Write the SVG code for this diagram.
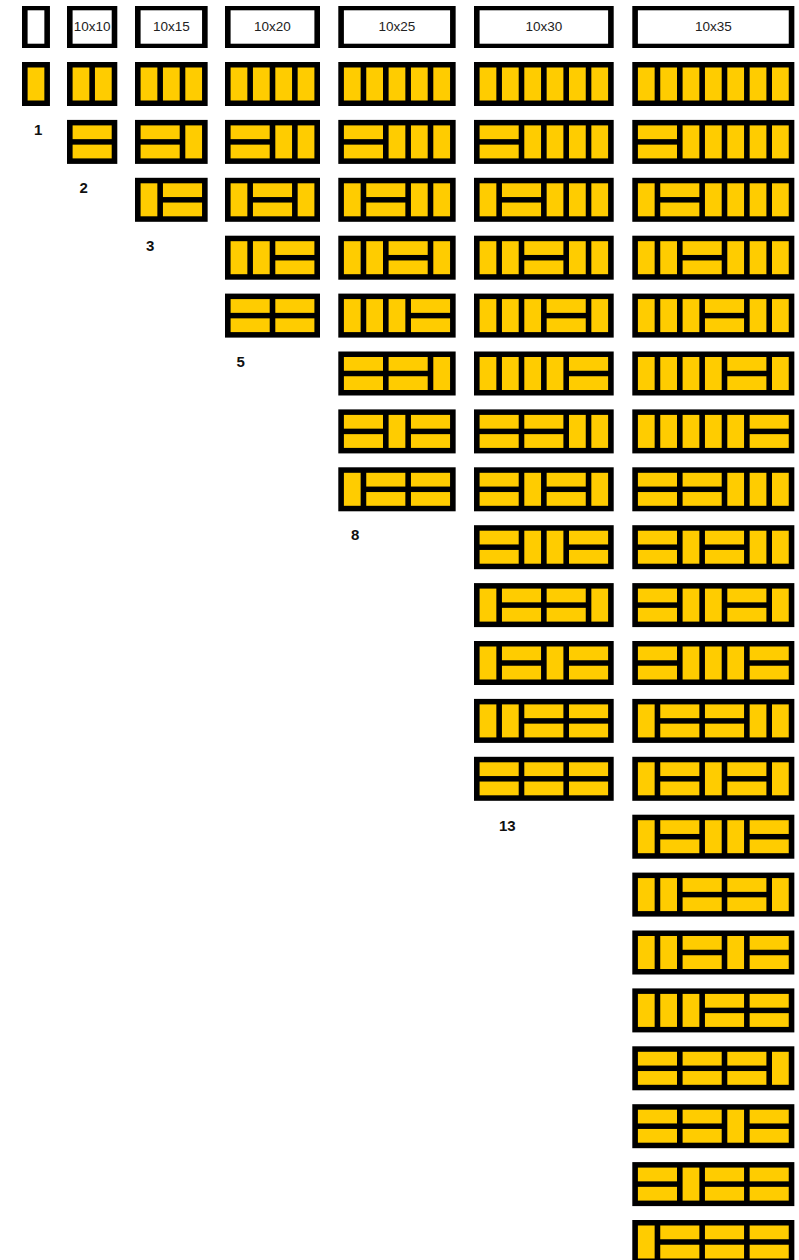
<svg xmlns="http://www.w3.org/2000/svg" width="799" height="1260" viewBox="0 0 799 1260">
<style>
.f{fill:#000}
.w{fill:#fff}
.t{fill:#FFCC00}
.cap{font-family:"Liberation Sans",Arial,sans-serif;font-size:13.5px;fill:#222;text-anchor:middle}
.lbl{font-family:"Liberation Sans",Arial,sans-serif;font-size:15px;font-weight:bold;fill:#111}
</style>
<defs>
<rect id="v" class="t" x="5.6" y="5.5" width="16.75" height="33"/>
<g id="h" class="t"><rect x="5.6" y="5.5" width="39.1" height="13.75"/><rect x="5.6" y="24.75" width="39.1" height="13.75"/></g>
</defs>
<rect width="799" height="1260" fill="#fff"/>

<!-- headers -->
<g id="hdr1" transform="translate(22,6)"><rect class="f" width="27.95" height="42"/><rect class="w" x="5.6" y="4.3" width="16.75" height="33.4"/></g>
<g id="hdr2" transform="translate(67,6)"><rect class="f" width="50.3" height="42"/><rect class="w" x="5.6" y="4.3" width="39.1" height="33.4"/><text class="cap" x="25.15" y="24.7">10x10</text></g>
<g id="hdr3" transform="translate(135,6)"><rect class="f" width="72.65" height="42"/><rect class="w" x="5.6" y="4.3" width="61.45" height="33.4"/><text class="cap" x="36.3" y="24.7">10x15</text></g>
<g id="hdr4" transform="translate(225,6)"><rect class="f" width="95" height="42"/><rect class="w" x="5.6" y="4.3" width="83.8" height="33.4"/><text class="cap" x="47.5" y="24.7">10x20</text></g>
<g id="hdr5" transform="translate(338.3,6)"><rect class="f" width="117.35" height="42"/><rect class="w" x="5.6" y="4.3" width="106.15" height="33.4"/><text class="cap" x="58.7" y="24.7">10x25</text></g>
<g id="hdr6" transform="translate(474,6)"><rect class="f" width="139.7" height="42"/><rect class="w" x="5.6" y="4.3" width="128.5" height="33.4"/><text class="cap" x="69.85" y="24.7">10x30</text></g>
<g id="hdr7" transform="translate(632.3,6)"><rect class="f" width="162.05" height="42"/><rect class="w" x="5.6" y="4.3" width="150.85" height="33.4"/><text class="cap" x="81" y="24.7">10x35</text></g>

<!-- column 1 -->
<g id="t1-1" transform="translate(22,62)"><rect class="f" width="27.95" height="44"/><use href="#v" x="0"/></g>
<text id="n1" class="lbl" x="34" y="135">1</text>

<!-- column 2 -->
<g id="t2-1" transform="translate(67,62)"><rect class="f" width="50.3" height="44"/><use href="#v" x="0"/><use href="#v" x="22.35"/></g>
<g id="t2-2" transform="translate(67,119.9)"><rect class="f" width="50.3" height="44"/><use href="#h" x="0"/></g>
<text id="n2" class="lbl" x="79.5" y="193">2</text>

<!-- column 3 -->
<g id="t3-1" transform="translate(135,62)"><rect class="f" width="72.65" height="44"/><use href="#v" x="0"/><use href="#v" x="22.35"/><use href="#v" x="44.7"/></g>
<g id="t3-2" transform="translate(135,119.9)"><rect class="f" width="72.65" height="44"/><use href="#h" x="0"/><use href="#v" x="44.7"/></g>
<g id="t3-3" transform="translate(135,177.8)"><rect class="f" width="72.65" height="44"/><use href="#v" x="0"/><use href="#h" x="22.35"/></g>
<text id="n3" class="lbl" x="146" y="251">3</text>

<!-- column 4 -->
<g id="t4-1" transform="translate(225,62)"><rect class="f" width="95" height="44"/><use href="#v" x="0"/><use href="#v" x="22.35"/><use href="#v" x="44.7"/><use href="#v" x="67.05"/></g>
<g id="t4-2" transform="translate(225,119.9)"><rect class="f" width="95" height="44"/><use href="#h" x="0"/><use href="#v" x="44.7"/><use href="#v" x="67.05"/></g>
<g id="t4-3" transform="translate(225,177.8)"><rect class="f" width="95" height="44"/><use href="#v" x="0"/><use href="#h" x="22.35"/><use href="#v" x="67.05"/></g>
<g id="t4-4" transform="translate(225,235.7)"><rect class="f" width="95" height="44"/><use href="#v" x="0"/><use href="#v" x="22.35"/><use href="#h" x="44.7"/></g>
<g id="t4-5" transform="translate(225,293.6)"><rect class="f" width="95" height="44"/><use href="#h" x="0"/><use href="#h" x="44.7"/></g>
<text id="n5" class="lbl" x="236.5" y="366.5">5</text>

<!-- column 5 -->
<g id="t5-1" transform="translate(338.3,62)"><rect class="f" width="117.35" height="44"/><use href="#v" x="0"/><use href="#v" x="22.35"/><use href="#v" x="44.7"/><use href="#v" x="67.05"/><use href="#v" x="89.4"/></g>
<g id="t5-2" transform="translate(338.3,119.9)"><rect class="f" width="117.35" height="44"/><use href="#h" x="0"/><use href="#v" x="44.7"/><use href="#v" x="67.05"/><use href="#v" x="89.4"/></g>
<g id="t5-3" transform="translate(338.3,177.8)"><rect class="f" width="117.35" height="44"/><use href="#v" x="0"/><use href="#h" x="22.35"/><use href="#v" x="67.05"/><use href="#v" x="89.4"/></g>
<g id="t5-4" transform="translate(338.3,235.7)"><rect class="f" width="117.35" height="44"/><use href="#v" x="0"/><use href="#v" x="22.35"/><use href="#h" x="44.7"/><use href="#v" x="89.4"/></g>
<g id="t5-5" transform="translate(338.3,293.6)"><rect class="f" width="117.35" height="44"/><use href="#v" x="0"/><use href="#v" x="22.35"/><use href="#v" x="44.7"/><use href="#h" x="67.05"/></g>
<g id="t5-6" transform="translate(338.3,351.5)"><rect class="f" width="117.35" height="44"/><use href="#h" x="0"/><use href="#h" x="44.7"/><use href="#v" x="89.4"/></g>
<g id="t5-7" transform="translate(338.3,409.4)"><rect class="f" width="117.35" height="44"/><use href="#h" x="0"/><use href="#v" x="44.7"/><use href="#h" x="67.05"/></g>
<g id="t5-8" transform="translate(338.3,467.3)"><rect class="f" width="117.35" height="44"/><use href="#v" x="0"/><use href="#h" x="22.35"/><use href="#h" x="67.05"/></g>
<text id="n8" class="lbl" x="351" y="540">8</text>

<!-- column 6 -->
<g id="t6-1" transform="translate(474,62)"><rect class="f" width="139.7" height="44"/><use href="#v" x="0"/><use href="#v" x="22.35"/><use href="#v" x="44.7"/><use href="#v" x="67.05"/><use href="#v" x="89.4"/><use href="#v" x="111.75"/></g>
<g id="t6-2" transform="translate(474,119.9)"><rect class="f" width="139.7" height="44"/><use href="#h" x="0"/><use href="#v" x="44.7"/><use href="#v" x="67.05"/><use href="#v" x="89.4"/><use href="#v" x="111.75"/></g>
<g id="t6-3" transform="translate(474,177.8)"><rect class="f" width="139.7" height="44"/><use href="#v" x="0"/><use href="#h" x="22.35"/><use href="#v" x="67.05"/><use href="#v" x="89.4"/><use href="#v" x="111.75"/></g>
<g id="t6-4" transform="translate(474,235.7)"><rect class="f" width="139.7" height="44"/><use href="#v" x="0"/><use href="#v" x="22.35"/><use href="#h" x="44.7"/><use href="#v" x="89.4"/><use href="#v" x="111.75"/></g>
<g id="t6-5" transform="translate(474,293.6)"><rect class="f" width="139.7" height="44"/><use href="#v" x="0"/><use href="#v" x="22.35"/><use href="#v" x="44.7"/><use href="#h" x="67.05"/><use href="#v" x="111.75"/></g>
<g id="t6-6" transform="translate(474,351.5)"><rect class="f" width="139.7" height="44"/><use href="#v" x="0"/><use href="#v" x="22.35"/><use href="#v" x="44.7"/><use href="#v" x="67.05"/><use href="#h" x="89.4"/></g>
<g id="t6-7" transform="translate(474,409.4)"><rect class="f" width="139.7" height="44"/><use href="#h" x="0"/><use href="#h" x="44.7"/><use href="#v" x="89.4"/><use href="#v" x="111.75"/></g>
<g id="t6-8" transform="translate(474,467.3)"><rect class="f" width="139.7" height="44"/><use href="#h" x="0"/><use href="#v" x="44.7"/><use href="#h" x="67.05"/><use href="#v" x="111.75"/></g>
<g id="t6-9" transform="translate(474,525.2)"><rect class="f" width="139.7" height="44"/><use href="#h" x="0"/><use href="#v" x="44.7"/><use href="#v" x="67.05"/><use href="#h" x="89.4"/></g>
<g id="t6-10" transform="translate(474,583.1)"><rect class="f" width="139.7" height="44"/><use href="#v" x="0"/><use href="#h" x="22.35"/><use href="#h" x="67.05"/><use href="#v" x="111.75"/></g>
<g id="t6-11" transform="translate(474,641)"><rect class="f" width="139.7" height="44"/><use href="#v" x="0"/><use href="#h" x="22.35"/><use href="#v" x="67.05"/><use href="#h" x="89.4"/></g>
<g id="t6-12" transform="translate(474,698.9)"><rect class="f" width="139.7" height="44"/><use href="#v" x="0"/><use href="#v" x="22.35"/><use href="#h" x="44.7"/><use href="#h" x="89.4"/></g>
<g id="t6-13" transform="translate(474,756.8)"><rect class="f" width="139.7" height="44"/><use href="#h" x="0"/><use href="#h" x="44.7"/><use href="#h" x="89.4"/></g>
<text id="n13" class="lbl" x="499" y="831">13</text>

<!-- column 7 -->
<g id="t7-1" transform="translate(632.3,62)"><rect class="f" width="162.05" height="44"/><use href="#v" x="0"/><use href="#v" x="22.35"/><use href="#v" x="44.7"/><use href="#v" x="67.05"/><use href="#v" x="89.4"/><use href="#v" x="111.75"/><use href="#v" x="134.1"/></g>
<g id="t7-2" transform="translate(632.3,119.9)"><rect class="f" width="162.05" height="44"/><use href="#h" x="0"/><use href="#v" x="44.7"/><use href="#v" x="67.05"/><use href="#v" x="89.4"/><use href="#v" x="111.75"/><use href="#v" x="134.1"/></g>
<g id="t7-3" transform="translate(632.3,177.8)"><rect class="f" width="162.05" height="44"/><use href="#v" x="0"/><use href="#h" x="22.35"/><use href="#v" x="67.05"/><use href="#v" x="89.4"/><use href="#v" x="111.75"/><use href="#v" x="134.1"/></g>
<g id="t7-4" transform="translate(632.3,235.7)"><rect class="f" width="162.05" height="44"/><use href="#v" x="0"/><use href="#v" x="22.35"/><use href="#h" x="44.7"/><use href="#v" x="89.4"/><use href="#v" x="111.75"/><use href="#v" x="134.1"/></g>
<g id="t7-5" transform="translate(632.3,293.6)"><rect class="f" width="162.05" height="44"/><use href="#v" x="0"/><use href="#v" x="22.35"/><use href="#v" x="44.7"/><use href="#h" x="67.05"/><use href="#v" x="111.75"/><use href="#v" x="134.1"/></g>
<g id="t7-6" transform="translate(632.3,351.5)"><rect class="f" width="162.05" height="44"/><use href="#v" x="0"/><use href="#v" x="22.35"/><use href="#v" x="44.7"/><use href="#v" x="67.05"/><use href="#h" x="89.4"/><use href="#v" x="134.1"/></g>
<g id="t7-7" transform="translate(632.3,409.4)"><rect class="f" width="162.05" height="44"/><use href="#v" x="0"/><use href="#v" x="22.35"/><use href="#v" x="44.7"/><use href="#v" x="67.05"/><use href="#v" x="89.4"/><use href="#h" x="111.75"/></g>
<g id="t7-8" transform="translate(632.3,467.3)"><rect class="f" width="162.05" height="44"/><use href="#h" x="0"/><use href="#h" x="44.7"/><use href="#v" x="89.4"/><use href="#v" x="111.75"/><use href="#v" x="134.1"/></g>
<g id="t7-9" transform="translate(632.3,525.2)"><rect class="f" width="162.05" height="44"/><use href="#h" x="0"/><use href="#v" x="44.7"/><use href="#h" x="67.05"/><use href="#v" x="111.75"/><use href="#v" x="134.1"/></g>
<g id="t7-10" transform="translate(632.3,583.1)"><rect class="f" width="162.05" height="44"/><use href="#h" x="0"/><use href="#v" x="44.7"/><use href="#v" x="67.05"/><use href="#h" x="89.4"/><use href="#v" x="134.1"/></g>
<g id="t7-11" transform="translate(632.3,641)"><rect class="f" width="162.05" height="44"/><use href="#h" x="0"/><use href="#v" x="44.7"/><use href="#v" x="67.05"/><use href="#v" x="89.4"/><use href="#h" x="111.75"/></g>
<g id="t7-12" transform="translate(632.3,698.9)"><rect class="f" width="162.05" height="44"/><use href="#v" x="0"/><use href="#h" x="22.35"/><use href="#h" x="67.05"/><use href="#v" x="111.75"/><use href="#v" x="134.1"/></g>
<g id="t7-13" transform="translate(632.3,756.8)"><rect class="f" width="162.05" height="44"/><use href="#v" x="0"/><use href="#h" x="22.35"/><use href="#v" x="67.05"/><use href="#h" x="89.4"/><use href="#v" x="134.1"/></g>
<g id="t7-14" transform="translate(632.3,814.7)"><rect class="f" width="162.05" height="44"/><use href="#v" x="0"/><use href="#h" x="22.35"/><use href="#v" x="67.05"/><use href="#v" x="89.4"/><use href="#h" x="111.75"/></g>
<g id="t7-15" transform="translate(632.3,872.6)"><rect class="f" width="162.05" height="44"/><use href="#v" x="0"/><use href="#v" x="22.35"/><use href="#h" x="44.7"/><use href="#h" x="89.4"/><use href="#v" x="134.1"/></g>
<g id="t7-16" transform="translate(632.3,930.5)"><rect class="f" width="162.05" height="44"/><use href="#v" x="0"/><use href="#v" x="22.35"/><use href="#h" x="44.7"/><use href="#v" x="89.4"/><use href="#h" x="111.75"/></g>
<g id="t7-17" transform="translate(632.3,988.4)"><rect class="f" width="162.05" height="44"/><use href="#v" x="0"/><use href="#v" x="22.35"/><use href="#v" x="44.7"/><use href="#h" x="67.05"/><use href="#h" x="111.75"/></g>
<g id="t7-18" transform="translate(632.3,1046.3)"><rect class="f" width="162.05" height="44"/><use href="#h" x="0"/><use href="#h" x="44.7"/><use href="#h" x="89.4"/><use href="#v" x="134.1"/></g>
<g id="t7-19" transform="translate(632.3,1104.2)"><rect class="f" width="162.05" height="44"/><use href="#h" x="0"/><use href="#h" x="44.7"/><use href="#v" x="89.4"/><use href="#h" x="111.75"/></g>
<g id="t7-20" transform="translate(632.3,1162.1)"><rect class="f" width="162.05" height="44"/><use href="#h" x="0"/><use href="#v" x="44.7"/><use href="#h" x="67.05"/><use href="#h" x="111.75"/></g>
<g id="t7-21" transform="translate(632.3,1220)"><rect class="f" width="162.05" height="44"/><use href="#v" x="0"/><use href="#h" x="22.35"/><use href="#h" x="67.05"/><use href="#h" x="111.75"/></g>

<g id="connectors"/>
</svg>
